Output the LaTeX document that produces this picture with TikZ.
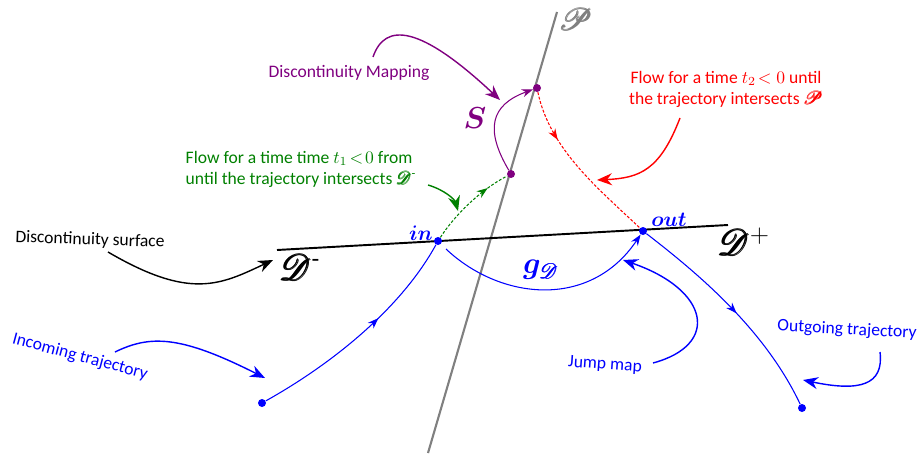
\documentclass[tikz,border=0pt]{standalone}
\usepackage{amsmath,mathrsfs,bm}
\usepackage{fontspec}
\setmainfont{Carlito}
\usetikzlibrary{arrows.meta,decorations.markings}
\newcommand{\bscr}[1]{\pmb{\mathscr{#1}}}

\begin{document}
\begin{tikzpicture}[x=0.02cm,y=-0.02cm,
  font=\normalsize,
  dot/.style={circle,fill,inner sep=0pt,minimum size=1.6mm},
  traj/.style={semithick},
  dots/.style={semithick,dash pattern=on 1.6pt off 1pt},
  note/.style={thick,-{Stealth[length=3mm,width=2.4mm]}},
  tip/.style={-{Stealth[length=2.2mm,width=1.6mm]}},
  midarrow/.style={postaction={decorate},decoration={markings,
    mark=at position #1 with {\arrow{Stealth[length=2.2mm,width=1.6mm]}}}}]
\useasboundingbox (0,0) rectangle (922,453);

% plane P and the surface D
\coordinate (Pbot) at (428,453);
\coordinate (Ptop) at (557,12);
\draw[gray,line width=1.2pt] (Pbot) -- (Ptop);
\node[gray,font=\LARGE] (Plbl) at (576,19) {$\bscr{P}$};
\coordinate (Dleft) at (277,250);
\coordinate (Dright) at (728,225);
\draw[line width=1.1pt] (Dleft) -- (Dright);
\node[font=\huge] (DmLbl) at (300,267) {$\bscr{D}^{\text{-}}$};
\node[font=\huge] (DpLbl) at (744,242) {$\bscr{D}^{+}$};

% points
\node[dot,blue] (in) at (438,241) {};
\node[dot,blue] (out) at (643,231) {};
\node[dot,blue] (start) at (262,403) {};
\node[dot,blue] (end) at (802,408) {};
\node[dot,violet] (sbot) at (511,174) {};
\node[dot,violet] (stop) at (537,88) {};
\node[blue,font=\large] (inLbl) at (421,233) {$\bm{in}$};
\node[blue,font=\large] (outLbl) at (669,220) {$\bm{out}$};

% trajectories
\draw[traj,blue,midarrow=0.6] (start) .. controls (330,365) and (400,310) .. (in);
\coordinate (jumpA) at (446,249);
\draw[traj,blue,tip] (jumpA) .. controls (500,300) and (590,310) .. (out);
\node[blue,font=\LARGE] (gD) at (541,270) {$\bm{g}_{\bscr{D}}$};
\draw[traj,blue,midarrow=0.52] (out) .. controls (700,275) and (765,330) .. (end);
\draw[dots,green!50!black,midarrow=0.75] (in) .. controls (455,215) and (480,190) .. (sbot);
\draw[traj,violet,tip] (sbot) .. controls (485,130) and (490,105) .. (stop);
\node[violet,font=\LARGE] (Slbl) at (475,118) {$\bm{S}$};
\draw[dots,red,midarrow=0.3] (stop) .. controls (550,150) and (600,190) .. (out);

% labels and pointers
\node[violet] (mapTxt) at (349,73) {Discontinuity Mapping};
\coordinate (mapA) at (373,57);
\coordinate (mapB) at (500,100);
\draw[note,violet] (mapA) .. controls (385,22) and (420,25) .. (mapB);

\node[red,align=center] (flow2Txt) at (726,89)
  {Flow for a time $t_2\!<0$ until\\the trajectory intersects $\bscr{P}$};
\coordinate (flow2A) at (680,118);
\coordinate (flow2B) at (597,180);
\draw[note,red] (flow2A) .. controls (660,170) and (640,178) .. (flow2B);

\node[green!50!black,align=left] (flow1Txt) at (301,169)
  {Flow for a time time $t_1\!<\!0$ from\\until the trajectory intersects $\bscr{D}^{\text{-}}$};
\coordinate (flow1A) at (428,185);
\coordinate (flow1B) at (458,211);
\draw[note,green!50!black] (flow1A) .. controls (445,190) and (455,200) .. (flow1B);

\node[rotate=-2] (surfTxt) at (90,240) {Discontinuity surface};
\coordinate (surfA) at (108,252);
\coordinate (surfB) at (273,260);
\draw[note] (surfA) .. controls (190,300) and (220,285) .. (surfB);

\node[blue,rotate=-15] (inTxt) at (80,357) {Incoming trajectory};
\coordinate (incA) at (115,352);
\coordinate (incB) at (265,378);
\draw[note,blue] (incA) .. controls (150,335) and (180,335) .. (incB);

\node[blue,rotate=-4] (jumpTxt) at (605,365) {Jump map};
\coordinate (jumpC) at (653,363);
\coordinate (jumpD) at (623,260);
\draw[note,blue] (jumpC) .. controls (720,345) and (710,290) .. (jumpD);

\node[blue,rotate=-3] (outTxt) at (847,330) {Outgoing trajectory};
\coordinate (outA) at (880,352);
\coordinate (outB) at (803,380);
\draw[note,blue] (outA) .. controls (884,385) and (860,392) .. (outB);
\end{tikzpicture}
\end{document}
